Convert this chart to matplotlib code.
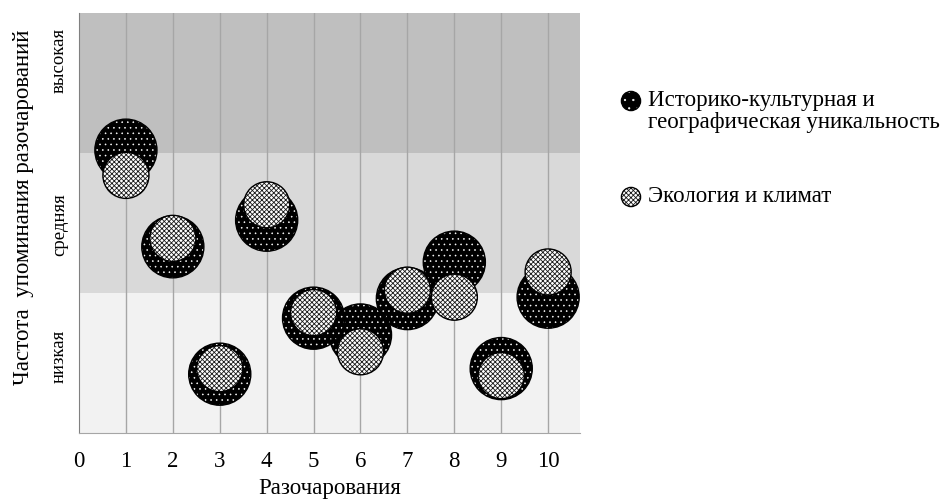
import matplotlib
matplotlib.use("Agg")
import matplotlib.pyplot as plt

plt.rcParams['font.family'] = ['Liberation Serif', 'DejaVu Serif']

# ---------- данные ----------
x_vals = [1, 2, 3, 4, 5, 6, 7, 8, 9, 10]
hist_y = [2.02, 1.33, 0.42, 1.52, 0.82, 0.70, 0.96, 1.22, 0.46, 0.97]
eco_y = [1.84, 1.39, 0.46, 1.63, 0.86, 0.58, 1.02, 0.97, 0.41, 1.15]
hist_size = [1, 1, 1, 1, 1, 1, 1, 1, 1, 1]
eco_size = [1, 1, 1, 1, 1, 1, 1, 1, 1, 1]

band_edges = [0, 1, 2, 3]
band_colors = ["#f2f2f2", "#d9d9d9", "#bfbfbf"]
ytick_pos = [0.55, 1.49, 2.66]
band_labels = ["низкая", "средняя", "высокая"]

series_names = ["Историко-культурная и\nгеографическая уникальность",
                "Экология и климат"]

# размеры пузырей (pt^2)
S_HIST = 2000
S_ECO = 1100

fig = plt.figure(figsize=(9.45, 4.99), dpi=100)
ax = fig.add_axes([0.0836, 0.1323, 0.5302, 0.8417])

# фоновые полосы
for lo, hi, c in zip(band_edges[:-1], band_edges[1:], band_colors):
    ax.axhspan(lo, hi, color=c, zorder=0, lw=0)

# вертикальная сетка
for xv in x_vals:
    ax.axvline(xv, color="#a6a6a6", lw=1.0, zorder=1)


def bubbles(axis, xs, ys, s, face, hcolor, hatch, hlw, z):
    with plt.rc_context({'hatch.linewidth': hlw}):
        fill = axis.scatter(xs, ys, s=s, facecolor=face, edgecolor=hcolor,
                            hatch=hatch, linewidth=0, zorder=z)
    axis.scatter(xs, ys, s=s, facecolor="none", edgecolor="black",
                 linewidth=1.0, zorder=z)
    return fill


# серия 1: чёрный с белыми точками
bubbles(ax, x_vals, hist_y, [S_HIST * v for v in hist_size],
        "black", "white", "...", 0.4, 3)
# серия 2: светлая сетка
bubbles(ax, x_vals, eco_y, [S_ECO * v for v in eco_size],
        "white", "#1a1a1a", "xxxxxxx", 0.6, 4)

ax.set_xlim(0, 10.68)
ax.set_ylim(band_edges[0], band_edges[-1])
ax.set_xticks(range(0, 11))
ax.tick_params(axis="x", length=0, pad=13, labelsize=16.5)
ax.set_yticks(ytick_pos)
ax.set_yticklabels(band_labels, rotation=90, va="center", fontsize=13.5)
ax.tick_params(axis="y", length=0, pad=8)

for side in ["top", "right"]:
    ax.spines[side].set_visible(False)
ax.spines["left"].set_color("#808080")
ax.spines["bottom"].set_color("#a6a6a6")
ax.spines["left"].set_linewidth(0.8)
ax.spines["bottom"].set_linewidth(0.8)

ax.set_xlabel("Разочарования", fontsize=16.5, labelpad=4)
ax.set_ylabel("Частота  упоминания разочарований", fontsize=16.5)
ax.yaxis.set_label_coords(-0.09, 0.538)

# легенда (вручную, маркер на уровне первой строки)
leg = fig.add_axes([0.0, 0.0, 1.0, 1.0], facecolor="none")
leg.set_xlim(0, 945)
leg.set_ylim(499, 0)
leg.axis("off")
leg_y = [101, 197]
for (name, face, hc, hatch, hlw), yy in zip(
        [(series_names[0], "black", "white", "..", 0.4),
         (series_names[1], "white", "#1a1a1a", "xxxxxxx", 0.6)], leg_y):
    bubbles(leg, [631], [yy], [190], face, hc, hatch, hlw, 5)
    leg.text(648, yy - 11, name, fontsize=16.5, va="top", ha="left",
             linespacing=1.08)

fig.savefig("out.png", dpi=100)
